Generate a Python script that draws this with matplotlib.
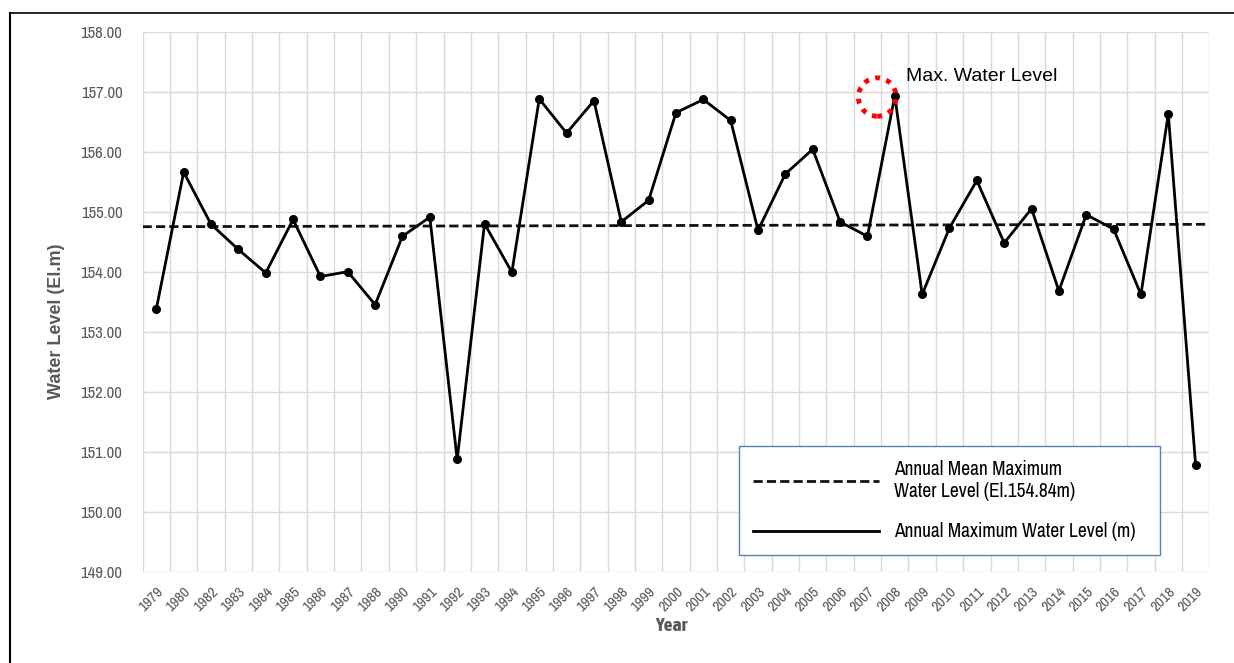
import matplotlib
matplotlib.use("Agg")
import matplotlib.pyplot as plt
from matplotlib.lines import Line2D
from matplotlib.patches import Ellipse
import numpy as np

years = ['1979', '1980', '1982', '1983', '1984', '1985', '1986', '1987', '1988',
         '1990', '1991', '1992', '1993', '1994', '1995', '1996', '1997', '1998',
         '1999', '2000', '2001', '2002', '2003', '2004', '2005', '2006', '2007',
         '2008', '2009', '2010', '2011', '2012', '2013', '2014', '2015', '2016',
         '2017', '2018', '2019']
levels = [153.39, 155.67, 154.80, 154.38, 153.99, 154.88, 153.93, 154.01, 153.46,
          154.60, 154.92, 150.88, 154.81, 154.00, 156.89, 156.32, 156.86, 154.84,
          155.20, 156.66, 156.88, 156.53, 154.70, 155.64, 156.05, 154.84, 154.60,
          156.94, 153.63, 154.74, 155.53, 154.49, 155.06, 153.69, 154.96, 154.72,
          153.63, 156.64, 150.78]
mean_ends = [154.76, 154.80]   # dashed line, left edge -> right edge
y_ticks = [149, 150, 151, 152, 153, 154, 155, 156, 157, 158]

narrow = ['Archivo Narrow', 'DejaVu Sans']
narrow_bold = ['Asap Condensed', 'DejaVu Sans']
grey = '#595959'

fig = plt.figure(figsize=(12.34, 6.63), dpi=100)
ax = fig.add_axes([0.1156, 0.1368, 0.8644, 0.8145])

x = np.arange(len(years))
ax.plot([-0.5, len(years) - 0.5], mean_ends, color='#111111', lw=2.0,
        dashes=(3.3, 1.5), label='Annual Mean Maximum\nWater Level (El.154.84m)', zorder=3)
ax.plot(x, levels, color='black', lw=2.0, marker='o', markersize=5.5,
        label='Annual Maximum Water Level (m)', zorder=4)

ax.set_xlim(-0.5, len(years) - 0.5)
ax.set_ylim(149, 158)
ax.set_yticks(y_ticks)
ax.set_yticklabels([f'{v:.2f}' for v in y_ticks], family=narrow, fontsize=12, color=grey)
ax.set_xticks(x)
ax.set_xticklabels(years, rotation=45, ha='right', rotation_mode='anchor',
                   family=narrow, fontsize=11, color=grey)
ax.set_xticks(np.arange(-0.5, len(years)), minor=True)
ax.tick_params(which='both', length=0)
ax.tick_params(axis='x', pad=9)
ax.tick_params(axis='y', pad=14.5)
ax.grid(True, which='minor', axis='x', color='#d9d9d9', lw=1)
ax.grid(True, which='major', axis='y', color='#d9d9d9', lw=1)
for s in ax.spines.values():
    s.set_visible(False)

ax.set_xlabel('Year', family=narrow_bold, fontsize=14, fontweight='bold', color=grey)
ax.set_ylabel('Water Level (El.m)', family=['Liberation Sans', 'DejaVu Sans'], fontsize=13,
              fontweight='bold', color=grey)
ax.xaxis.set_label_coords(0.4958, -0.083)
ax.yaxis.set_label_coords(-0.073, 0.465)

# max level marker
imax = int(np.argmax(levels))
ax.add_patch(Ellipse((imax - 0.64, levels[imax] - 0.02), 1.38, 0.64, fill=False,
                     edgecolor='red', lw=3.5, linestyle=(0, (1.0, 1.35)), zorder=5))
ax.text(imax + 0.4, levels[imax] + 0.32, 'Max. Water Level', fontsize=14,
        family=['Liberation Sans', 'DejaVu Sans'], va='center', ha='left')

leg = ax.legend(loc='lower left', bbox_to_anchor=(0.559, 0.032, 0.3947, 0.204),
                mode='expand', borderaxespad=0, fancybox=False, edgecolor='#5a7fb5',
                framealpha=1, prop={'family': narrow, 'size': 14}, handlelength=6.5,
                handletextpad=0.8, labelspacing=1.1, borderpad=0.7)
leg.get_frame().set_linewidth(1.0)
for h in leg.legend_handles:
    h.set_marker('')

# page frame
fig.add_artist(Line2D([0.008, 0.008], [0.0, 0.981], color='black', lw=1.5,
                      transform=fig.transFigure))
fig.add_artist(Line2D([0.008, 1.0], [0.981, 0.981], color='black', lw=1.2,
                      transform=fig.transFigure))

fig.savefig('out.png', dpi=100)
